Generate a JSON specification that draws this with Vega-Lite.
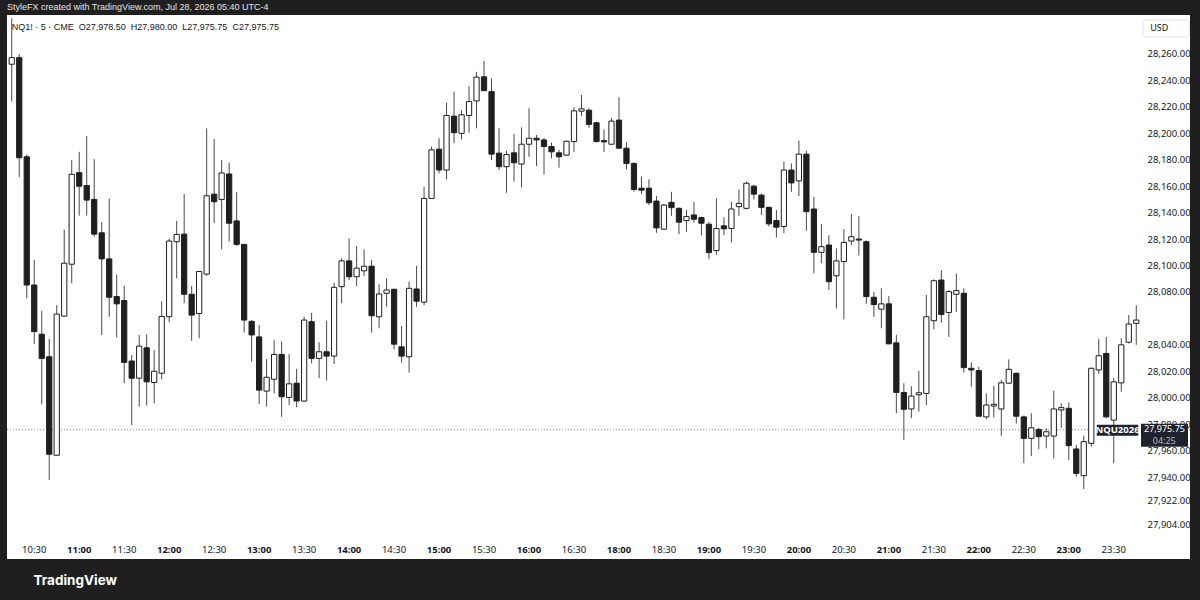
{
  "$schema": "https://vega.github.io/schema/vega-lite/v6.json",
  "width": 1183,
  "height": 544,
  "autosize": {"type": "none"},
  "padding": {"left": 7, "top": 15, "right": 10, "bottom": 41},
  "background": "#1f1f1f",
  "title": {
    "text": "StyleFX created with TradingView.com, Jul 28, 2026 05:40 UTC-4",
    "orient": "top",
    "anchor": "start",
    "frame": "group",
    "offset": 3,
    "color": "#e6e6e6",
    "font": "Liberation Sans",
    "fontSize": 9,
    "fontWeight": "normal"
  },
  "config": {
    "view": {"fill": "#ffffff", "stroke": null},
    "font": "Noto Sans"
  },
  "data": {
    "values": [
      {"t": "10:15", "o": 28252.25, "h": 28287, "l": 28224, "c": 28257.25},
      {"t": "10:20", "o": 28257.25, "h": 28260, "l": 28166.75, "c": 28181.5},
      {"t": "10:25", "o": 28182.25, "h": 28184, "l": 28075.25, "c": 28085.25},
      {"t": "10:30", "o": 28085.25, "h": 28104.25, "l": 28040.5, "c": 28050},
      {"t": "10:35", "o": 28048, "h": 28065.75, "l": 27995, "c": 28029.75},
      {"t": "10:40", "o": 28031, "h": 28044.5, "l": 27937.75, "c": 27957.25},
      {"t": "10:45", "o": 27956.5, "h": 28070, "l": 27956, "c": 28063.25},
      {"t": "10:50", "o": 28061.75, "h": 28127, "l": 28061.25, "c": 28101.75},
      {"t": "10:55", "o": 28101, "h": 28179.75, "l": 28086.5, "c": 28169},
      {"t": "11:00", "o": 28170.25, "h": 28186, "l": 28137.75, "c": 28160},
      {"t": "11:05", "o": 28160.5, "h": 28198, "l": 28137.75, "c": 28149.5},
      {"t": "11:10", "o": 28150, "h": 28180.5, "l": 28121.75, "c": 28123.75},
      {"t": "11:15", "o": 28124.75, "h": 28133, "l": 28047.5, "c": 28105},
      {"t": "11:20", "o": 28105, "h": 28150.75, "l": 28061.25, "c": 28076},
      {"t": "11:25", "o": 28076.5, "h": 28093.25, "l": 28045.5, "c": 28071},
      {"t": "11:30", "o": 28073.5, "h": 28084.75, "l": 28011, "c": 28026.75},
      {"t": "11:35", "o": 28027.75, "h": 28032.25, "l": 27979.25, "c": 28014.75},
      {"t": "11:40", "o": 28014.75, "h": 28047.5, "l": 27993.25, "c": 28039},
      {"t": "11:45", "o": 28037.75, "h": 28048, "l": 27994, "c": 28012},
      {"t": "11:50", "o": 28011.5, "h": 28036, "l": 27995.75, "c": 28020},
      {"t": "11:55", "o": 28018.5, "h": 28073, "l": 28014, "c": 28061.5},
      {"t": "12:00", "o": 28061.25, "h": 28120.5, "l": 28057, "c": 28118.5},
      {"t": "12:05", "o": 28118, "h": 28133.75, "l": 28090.25, "c": 28123.5},
      {"t": "12:10", "o": 28123.75, "h": 28154, "l": 28071.5, "c": 28078.25},
      {"t": "12:15", "o": 28078.25, "h": 28084.5, "l": 28043, "c": 28062.5},
      {"t": "12:20", "o": 28063.75, "h": 28096, "l": 28045, "c": 28095.5},
      {"t": "12:25", "o": 28093.5, "h": 28203.75, "l": 28092.25, "c": 28152.75},
      {"t": "12:30", "o": 28154, "h": 28195.75, "l": 28132, "c": 28148.25},
      {"t": "12:35", "o": 28150, "h": 28179.75, "l": 28112.25, "c": 28170},
      {"t": "12:40", "o": 28169.25, "h": 28178, "l": 28118, "c": 28132},
      {"t": "12:45", "o": 28133.75, "h": 28155.5, "l": 28115, "c": 28116},
      {"t": "12:50", "o": 28116, "h": 28116.25, "l": 28049.25, "c": 28058.75},
      {"t": "12:55", "o": 28057.75, "h": 28058.75, "l": 28027.25, "c": 28047.5},
      {"t": "13:00", "o": 28046, "h": 28055, "l": 27995.25, "c": 28005.75},
      {"t": "13:05", "o": 28005, "h": 28029.25, "l": 27993.25, "c": 28015.5},
      {"t": "13:10", "o": 28014, "h": 28043.5, "l": 28003.25, "c": 28032.75},
      {"t": "13:15", "o": 28032.75, "h": 28042.5, "l": 27985.5, "c": 28000.75},
      {"t": "13:20", "o": 28000.25, "h": 28033, "l": 27994.5, "c": 28010.5},
      {"t": "13:25", "o": 28011, "h": 28021.75, "l": 27992.75, "c": 27997.5},
      {"t": "13:30", "o": 27997.5, "h": 28061.25, "l": 27997, "c": 28058.75},
      {"t": "13:35", "o": 28057.5, "h": 28064.25, "l": 28026, "c": 28029.75},
      {"t": "13:40", "o": 28029.75, "h": 28042, "l": 28014.75, "c": 28034.75},
      {"t": "13:45", "o": 28034.75, "h": 28058.25, "l": 28013, "c": 28031.5},
      {"t": "13:50", "o": 28031.5, "h": 28087, "l": 28025.5, "c": 28083.5},
      {"t": "13:55", "o": 28084, "h": 28105.5, "l": 28071.5, "c": 28103.5},
      {"t": "14:00", "o": 28103.5, "h": 28120.5, "l": 28089, "c": 28091.5},
      {"t": "14:05", "o": 28091.5, "h": 28114.75, "l": 28084.5, "c": 28098},
      {"t": "14:10", "o": 28096, "h": 28112.25, "l": 28092, "c": 28099.5},
      {"t": "14:15", "o": 28099.5, "h": 28104.25, "l": 28049.25, "c": 28062},
      {"t": "14:20", "o": 28061.25, "h": 28085.75, "l": 28052.5, "c": 28078.5},
      {"t": "14:25", "o": 28079, "h": 28090.25, "l": 28068.75, "c": 28081.5},
      {"t": "14:30", "o": 28082, "h": 28082.5, "l": 28036.5, "c": 28040.5},
      {"t": "14:35", "o": 28038.5, "h": 28054.25, "l": 28026.5, "c": 28031.5},
      {"t": "14:40", "o": 28031, "h": 28087.75, "l": 28019, "c": 28082.75},
      {"t": "14:45", "o": 28082.25, "h": 28099.75, "l": 28068.75, "c": 28073},
      {"t": "14:50", "o": 28072.25, "h": 28159.5, "l": 28070, "c": 28150.75},
      {"t": "14:55", "o": 28150.75, "h": 28190, "l": 28150.5, "c": 28187.5},
      {"t": "15:00", "o": 28188, "h": 28196.25, "l": 28169.75, "c": 28172.25},
      {"t": "15:05", "o": 28172.25, "h": 28223.25, "l": 28165.25, "c": 28213.5},
      {"t": "15:10", "o": 28213, "h": 28231.5, "l": 28192.5, "c": 28200.5},
      {"t": "15:15", "o": 28200, "h": 28217.5, "l": 28195.5, "c": 28214},
      {"t": "15:20", "o": 28213.5, "h": 28235.75, "l": 28200.5, "c": 28224},
      {"t": "15:25", "o": 28224.5, "h": 28246.5, "l": 28203.75, "c": 28242.5},
      {"t": "15:30", "o": 28242.75, "h": 28254.75, "l": 28232, "c": 28232.25},
      {"t": "15:35", "o": 28231.5, "h": 28241.5, "l": 28179.75, "c": 28184.25},
      {"t": "15:40", "o": 28185, "h": 28203.75, "l": 28172.25, "c": 28174.75},
      {"t": "15:45", "o": 28174.75, "h": 28186.75, "l": 28155, "c": 28184},
      {"t": "15:50", "o": 28185.25, "h": 28199.5, "l": 28163.5, "c": 28177.75},
      {"t": "15:55", "o": 28176.75, "h": 28204.5, "l": 28159, "c": 28191.75},
      {"t": "16:00", "o": 28191.75, "h": 28219, "l": 28182.25, "c": 28196.25},
      {"t": "16:05", "o": 28196.25, "h": 28198.75, "l": 28175.25, "c": 28195},
      {"t": "16:10", "o": 28195, "h": 28196.5, "l": 28169, "c": 28190},
      {"t": "16:15", "o": 28190, "h": 28193, "l": 28181, "c": 28186},
      {"t": "16:20", "o": 28185.25, "h": 28187.5, "l": 28174, "c": 28182.25},
      {"t": "16:25", "o": 28183.5, "h": 28194.5, "l": 28183, "c": 28194},
      {"t": "16:30", "o": 28193.75, "h": 28219.75, "l": 28186, "c": 28217},
      {"t": "16:35", "o": 28216.75, "h": 28229, "l": 28213, "c": 28218.5},
      {"t": "16:40", "o": 28217.5, "h": 28219, "l": 28204.25, "c": 28206.75},
      {"t": "16:45", "o": 28208, "h": 28208.75, "l": 28193.25, "c": 28193.75},
      {"t": "16:50", "o": 28194.5, "h": 28203, "l": 28186, "c": 28193.5},
      {"t": "16:55", "o": 28191.75, "h": 28211.5, "l": 28191.5, "c": 28209.25},
      {"t": "18:00", "o": 28210, "h": 28227.25, "l": 28188.5, "c": 28188.75},
      {"t": "18:05", "o": 28188.75, "h": 28193.25, "l": 28172.75, "c": 28177.25},
      {"t": "18:10", "o": 28177.25, "h": 28178, "l": 28155.75, "c": 28157.5},
      {"t": "18:15", "o": 28158.5, "h": 28167.25, "l": 28154, "c": 28157},
      {"t": "18:20", "o": 28158.5, "h": 28165.25, "l": 28145.75, "c": 28147.5},
      {"t": "18:25", "o": 28148.75, "h": 28152.5, "l": 28124.75, "c": 28128.5},
      {"t": "18:30", "o": 28127.5, "h": 28146.5, "l": 28127, "c": 28145.75},
      {"t": "18:35", "o": 28147.75, "h": 28155.75, "l": 28137.5, "c": 28143.75},
      {"t": "18:40", "o": 28143.25, "h": 28144, "l": 28123.75, "c": 28132.75},
      {"t": "18:45", "o": 28134, "h": 28142, "l": 28125.5, "c": 28137},
      {"t": "18:50", "o": 28138.25, "h": 28148.25, "l": 28132.5, "c": 28135},
      {"t": "18:55", "o": 28136.25, "h": 28137, "l": 28123, "c": 28132},
      {"t": "19:00", "o": 28131.25, "h": 28133, "l": 28104.75, "c": 28109.75},
      {"t": "19:05", "o": 28111.25, "h": 28150.75, "l": 28108, "c": 28128},
      {"t": "19:10", "o": 28130, "h": 28136.5, "l": 28123, "c": 28127.75},
      {"t": "19:15", "o": 28128, "h": 28148.25, "l": 28117.5, "c": 28142.75},
      {"t": "19:20", "o": 28144.5, "h": 28157.5, "l": 28137.5, "c": 28147},
      {"t": "19:25", "o": 28143.25, "h": 28163.5, "l": 28142.5, "c": 28162.25},
      {"t": "19:30", "o": 28160, "h": 28161, "l": 28150, "c": 28154},
      {"t": "19:35", "o": 28153.25, "h": 28154.5, "l": 28138.25, "c": 28144},
      {"t": "19:40", "o": 28144, "h": 28144.5, "l": 28129.5, "c": 28131.5},
      {"t": "19:45", "o": 28134, "h": 28142, "l": 28121.25, "c": 28129},
      {"t": "19:50", "o": 28129.5, "h": 28178.5, "l": 28124.5, "c": 28172.25},
      {"t": "19:55", "o": 28172.25, "h": 28177.25, "l": 28155.75, "c": 28162.5},
      {"t": "20:00", "o": 28164, "h": 28194.5, "l": 28152.5, "c": 28184.25},
      {"t": "20:05", "o": 28184.25, "h": 28186.75, "l": 28126.25, "c": 28140.75},
      {"t": "20:10", "o": 28142.75, "h": 28152, "l": 28094, "c": 28110},
      {"t": "20:15", "o": 28110, "h": 28131.5, "l": 28101.75, "c": 28114.25},
      {"t": "20:20", "o": 28115.5, "h": 28123, "l": 28081.5, "c": 28087.75},
      {"t": "20:25", "o": 28092.25, "h": 28113, "l": 28067.5, "c": 28103.5},
      {"t": "20:30", "o": 28103, "h": 28127.5, "l": 28059.25, "c": 28117.5},
      {"t": "20:35", "o": 28118.5, "h": 28139, "l": 28115.5, "c": 28121.75},
      {"t": "20:40", "o": 28120, "h": 28137.5, "l": 28107.5, "c": 28119.25},
      {"t": "20:45", "o": 28118, "h": 28119, "l": 28071, "c": 28076.5},
      {"t": "20:50", "o": 28076, "h": 28080, "l": 28061.25, "c": 28070.5},
      {"t": "20:55", "o": 28067, "h": 28082.75, "l": 28052.5, "c": 28071},
      {"t": "21:00", "o": 28071, "h": 28077, "l": 28040.5, "c": 28040.75},
      {"t": "21:05", "o": 28041.5, "h": 28047.5, "l": 27988.25, "c": 28004},
      {"t": "21:10", "o": 28004, "h": 28011, "l": 27968, "c": 27991.25},
      {"t": "21:15", "o": 27991.5, "h": 28008.75, "l": 27984.5, "c": 28001.25},
      {"t": "21:20", "o": 28002.25, "h": 28020.25, "l": 27989.5, "c": 28003.75},
      {"t": "21:25", "o": 28003.25, "h": 28077.75, "l": 27994.5, "c": 28061.25},
      {"t": "21:30", "o": 28058.25, "h": 28089.5, "l": 28051.75, "c": 28088.5},
      {"t": "21:35", "o": 28089, "h": 28096.5, "l": 28056.75, "c": 28063},
      {"t": "21:40", "o": 28064.5, "h": 28081.5, "l": 28046, "c": 28080.25},
      {"t": "21:45", "o": 28078.25, "h": 28094, "l": 28065, "c": 28081},
      {"t": "21:50", "o": 28079, "h": 28082.75, "l": 28019, "c": 28022.75},
      {"t": "21:55", "o": 28022.25, "h": 28026.75, "l": 28008.25, "c": 28021},
      {"t": "22:00", "o": 28020.5, "h": 28023.5, "l": 27985.5, "c": 27986},
      {"t": "22:05", "o": 27985.5, "h": 28003.25, "l": 27983.75, "c": 27994.5},
      {"t": "22:10", "o": 27993.75, "h": 28009, "l": 27985, "c": 27995},
      {"t": "22:15", "o": 27991.5, "h": 28013.5, "l": 27971.25, "c": 28011.25},
      {"t": "22:20", "o": 28011, "h": 28029, "l": 28010.5, "c": 28021.5},
      {"t": "22:25", "o": 28018.5, "h": 28019, "l": 27980.5, "c": 27986},
      {"t": "22:30", "o": 27985.5, "h": 27986.5, "l": 27950.5, "c": 27969.25},
      {"t": "22:35", "o": 27969.25, "h": 27988.25, "l": 27956, "c": 27977.25},
      {"t": "22:40", "o": 27976, "h": 27977.25, "l": 27961, "c": 27970.5},
      {"t": "22:45", "o": 27971, "h": 27976.75, "l": 27961.75, "c": 27974.25},
      {"t": "22:50", "o": 27971, "h": 28005.25, "l": 27954, "c": 27991.5},
      {"t": "22:55", "o": 27990.75, "h": 27995.75, "l": 27977.25, "c": 27992.5},
      {"t": "23:00", "o": 27992, "h": 27996.5, "l": 27953, "c": 27963.75},
      {"t": "23:05", "o": 27961.25, "h": 27964.25, "l": 27940.25, "c": 27942.75},
      {"t": "23:10", "o": 27941, "h": 27971.25, "l": 27931, "c": 27966.75},
      {"t": "23:15", "o": 27965.5, "h": 28022.75, "l": 27963, "c": 28022.25},
      {"t": "23:20", "o": 28021, "h": 28044.5, "l": 28018, "c": 28031.75},
      {"t": "23:25", "o": 28033.5, "h": 28046, "l": 27984.5, "c": 27985.5},
      {"t": "23:30", "o": 27983, "h": 28015, "l": 27950.5, "c": 28012},
      {"t": "23:35", "o": 28011.25, "h": 28045, "l": 28004.5, "c": 28040},
      {"t": "23:40", "o": 28042, "h": 28062.5, "l": 28041, "c": 28055.75},
      {"t": "23:45", "o": 28056.25, "h": 28070, "l": 28040, "c": 28058.75}
    ]
  },
  "encoding": {
    "x": {
      "field": "t",
      "type": "ordinal",
      "sort": null,
      "scale": {"type": "band", "paddingInner": 0, "paddingOuter": 0, "range": [1, 1133]},
      "axis": {
        "orient": "bottom",
        "offset": -19,
        "values": ["10:30", "11:00", "11:30", "12:00", "12:30", "13:00", "13:30", "14:00", "14:30", "15:00", "15:30", "16:00", "16:30", "18:00", "18:30", "19:00", "19:30", "20:00", "20:30", "21:00", "21:30", "22:00", "22:30", "23:00", "23:30"],
        "labelAngle": 0,
        "labelOverlap": false,
        "labelFlush": false,
        "labelPadding": 4,
        "labelFontSize": 9.5,
        "labelColor": "#131722",
        "labelFontWeight": {"condition": {"test": "indexof(datum.value, ':00') > 0", "value": "bold"}, "value": "normal"},
        "ticks": false,
        "tickSize": 0,
        "domain": false,
        "grid": false,
        "title": "TradingView",
        "titleX": 26,
        "titleY": 40,
        "titleAlign": "left",
        "titleBaseline": "middle",
        "titleColor": "#ffffff",
        "titleFont": "Inter",
        "titleFontSize": 13.5,
        "titleFontWeight": "bold"
      }
    },
    "y": {
      "type": "quantitative",
      "scale": {"domain": [27878, 28289.5], "zero": false, "nice": false},
      "axis": {
        "orient": "right",
        "offset": -50,
        "values": [28260, 28240, 28220, 28200, 28180, 28160, 28140, 28120, 28100, 28080, 28040, 28020, 28000, 27980, 27960, 27940, 27922, 27904],
        "format": ",.2f",
        "labelPadding": 7,
        "labelFontSize": 9.5,
        "labelColor": "#131722",
        "ticks": false,
        "tickSize": 0,
        "domain": false,
        "grid": false,
        "title": null
      }
    }
  },
  "layer": [
    {
      "data": {"values": [{"price": 27975.75}]},
      "mark": {"type": "rule", "color": "#8a8a8a", "strokeDash": [1, 2], "strokeWidth": 1},
      "encoding": {"x": null, "y": {"field": "price"}}
    },
    {
      "mark": {"type": "rule", "color": "#4a4a4a", "strokeWidth": 1},
      "encoding": {"y": {"field": "l"}, "y2": {"field": "h"}}
    },
    {
      "mark": {"type": "bar", "width": {"band": 0.7}, "stroke": "#1f1f1f", "strokeWidth": 1},
      "encoding": {
        "y": {"field": "o"},
        "y2": {"field": "c"},
        "fill": {"condition": {"test": "datum.c >= datum.o", "value": "#ffffff"}, "value": "#1f1f1f"}
      }
    },
    {
      "data": {"values": [{"label": "NQ1! · 5 · CME\u00a0\u00a0O27,978.50\u00a0\u00a0H27,980.00\u00a0\u00a0L27,975.75\u00a0\u00a0C27,975.75"}]},
      "mark": {"type": "text", "align": "left", "baseline": "middle", "font": "Liberation Sans", "fontSize": 9, "color": "#131722"},
      "encoding": {
        "x": {"datum": "10:15"},
        "y": {"datum": 28280.4},
        "text": {"field": "label"}
      }
    },
    {
      "data": {"values": [{"label": "USD"}]},
      "mark": {"type": "rect", "fill": "#ffffff", "stroke": "#e0e3eb", "strokeWidth": 1, "cornerRadius": 2, "xOffset": 6.75, "x2Offset": 53},
      "encoding": {
        "x": {"datum": "23:45", "bandPosition": 0.5},
        "x2": {"datum": "23:45", "bandPosition": 0.5},
        "y": {"datum": 28285.7},
        "y2": {"datum": 28272.9}
      }
    },
    {
      "data": {"values": [{"label": "USD"}]},
      "mark": {"type": "text", "align": "left", "baseline": "middle", "dx": 14, "fontSize": 9, "color": "#131722"},
      "encoding": {"x": {"datum": "23:45"}, "y": {"datum": 28279.3}, "text": {"field": "label"}}
    },
    {
      "data": {"values": [{"price": 27975.75}]},
      "mark": {"type": "rect", "fill": "#1e222d", "xOffset": -39.5, "x2Offset": 2, "yOffset": -5, "y2Offset": 6},
      "encoding": {
        "x": {"datum": "23:45", "bandPosition": 0.5},
        "x2": {"datum": "23:45", "bandPosition": 0.5},
        "y": {"field": "price", "type": "quantitative"},
        "y2": {"field": "price"}
      }
    },
    {
      "data": {"values": [{"price": 27975.75}]},
      "mark": {"type": "rect", "fill": "#1e222d", "xOffset": 4.75, "x2Offset": 51.75, "yOffset": -6, "y2Offset": 17},
      "encoding": {
        "x": {"datum": "23:45", "bandPosition": 0.5},
        "x2": {"datum": "23:45", "bandPosition": 0.5},
        "y": {"field": "price", "type": "quantitative"},
        "y2": {"field": "price"}
      }
    },
    {
      "data": {"values": [{"price": 27975.75, "label": "NQU2026"}]},
      "mark": {"type": "text", "align": "center", "baseline": "middle", "dx": -18.75, "dy": 0.5, "fontSize": 9.5, "fontWeight": "bold", "color": "#ffffff"},
      "encoding": {"x": {"datum": "23:45"}, "y": {"field": "price", "type": "quantitative"}, "text": {"field": "label"}}
    },
    {
      "data": {"values": [{"price": 27975.75}]},
      "mark": {"type": "text", "align": "center", "baseline": "middle", "dx": 28.25, "dy": -0.5, "fontSize": 9, "color": "#ffffff"},
      "encoding": {"x": {"datum": "23:45"}, "y": {"field": "price", "type": "quantitative"}, "text": {"field": "price", "format": ",.2f"}}
    },
    {
      "data": {"values": [{"price": 27975.75, "label": "04:25"}]},
      "mark": {"type": "text", "align": "center", "baseline": "middle", "dx": 28, "dy": 11.5, "fontSize": 9, "color": "#b2b5be"},
      "encoding": {"x": {"datum": "23:45"}, "y": {"field": "price", "type": "quantitative"}, "text": {"field": "label"}}
    }
  ]
}
